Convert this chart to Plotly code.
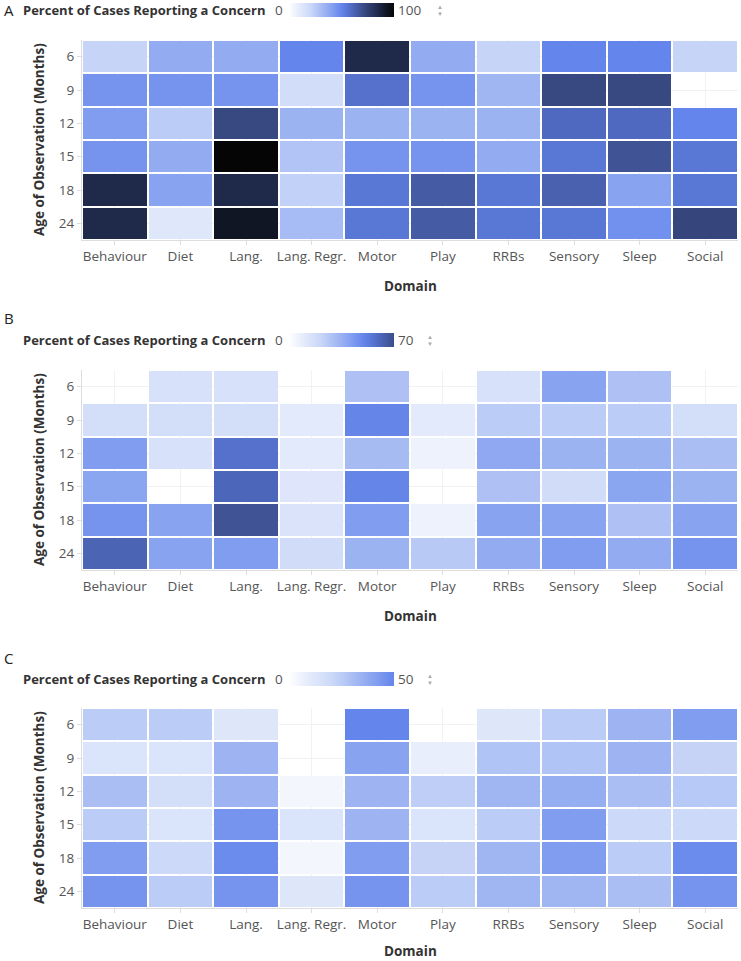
import plotly.graph_objects as go

W, H = 741, 961

domains = ["Behaviour", "Diet", "Lang.", "Lang. Regr.", "Motor", "Play", "RRBs", "Sensory", "Sleep", "Social"]
ages = ["6", "9", "12", "15", "18", "24"]

# Panel A values (percent), rows = ages, cols = domains; None = no data
values_a = [
    [22, 37, 37, 50, 85, 37, 22, 50, 50, 22],
    [45, 45, 45, 18, 57, 45, 33, 72, 72, None],
    [42, 25, 72, 34, 34, 34, 34, 60, 60, 50],
    [45, 37, 100, 28, 45, 45, 37, 55, 68, 55],
    [85, 40, 85, 23, 55, 65, 55, 63, 40, 55],
    [85, 12, 93, 31, 55, 65, 55, 55, 46, 73],
]
values_b = [
    [None, 15, 15, None, 29, None, 15, 40, 29, None],
    [17, 17, 17, 10, 50, 10, 25, 25, 25, 17],
    [42, 15, 57, 10, 31, 6, 38, 34, 34, 30],
    [39, None, 61, 12, 50, None, 29, 18, 39, 34],
    [45, 40, 68, 14, 42, 6, 40, 40, 29, 40],
    [62, 40, 42, 18, 34, 26, 37, 42, 37, 45],
]
values_c = [
    [25, 25, 12, None, 50, None, 12, 25, 34, 42],
    [14, 14, 34, None, 40, 8, 28, 28, 34, 22],
    [30, 17, 34, 4, 34, 24, 33, 36, 30, 26],
    [25, 14, 45, 14, 34, 14, 25, 42, 20, 20],
    [42, 20, 48, 4, 42, 22, 33, 42, 25, 48],
    [45, 25, 45, 12, 45, 25, 33, 33, 30, 45],
]
scale_max = [100, 70, 50]
panel_labels = ["A", "B", "C"]

FONT = "Open Sans"

anchors = [
    (0.0, "#ffffff"), (0.1, "#e3eafb"), (0.2, "#ccd9f8"), (0.3, "#aabef4"),
    (0.4, "#88a3f0"), (0.5, "#6485ec"), (0.6, "#4e69bf"), (0.7, "#3c4d8a"),
    (0.8, "#28355f"), (0.9, "#161d33"), (1.0, "#050505"),
]

def hex2rgb(h):
    h = h.lstrip("#")
    return tuple(int(h[i:i + 2], 16) for i in (0, 2, 4))

def color_at(t):
    for (t0, c0), (t1, c1) in zip(anchors[:-1], anchors[1:]):
        if t0 <= t <= t1:
            f = 0 if t1 == t0 else (t - t0) / (t1 - t0)
            a, b = hex2rgb(c0), hex2rgb(c1)
            r = [round(a[i] + (b[i] - a[i]) * f) for i in range(3)]
            return "rgb(%d,%d,%d)" % tuple(r)
    return anchors[-1][1]

def truncated_scale(frac, n=20):
    return [[i / n, color_at(frac * i / n)] for i in range(n + 1)]

def py(p):
    return 1 - p / H

def px(p):
    return p / W

fig = go.Figure()

plot_tops = [40, 370, 708]
plot_h = 200
legend_y = [10, 340, 679]
label_y = [10, 318, 658]
x0, x1 = 82, 738

annotations = []
for i, (vals, mx) in enumerate(zip([values_a, values_b, values_c], scale_max)):
    n = "" if i == 0 else str(i + 1)
    top = plot_tops[i]
    fig.add_trace(go.Heatmap(
        z=vals, x=domains, y=ages,
        xaxis="x" + n, yaxis="y" + n,
        zmin=0, zmax=mx,
        colorscale=truncated_scale(mx / 100),
        xgap=2, ygap=2,
        hoverongaps=False,
        colorbar=dict(
            orientation="h", x=px(289), xanchor="left",
            y=py(legend_y[i]), yanchor="middle",
            lenmode="pixels", len=105, thickness=14,
            thicknessmode="pixels",
            showticklabels=False, ticks="", outlinewidth=0,
            xpad=0, ypad=0,
        ),
    ))
    fig.update_layout(**{
        "xaxis" + n: dict(
            domain=[px(x0), px(x1)], anchor="y" + n,
            type="category", categoryorder="array", categoryarray=domains,
            showgrid=True, gridcolor="#f2f2f2", gridwidth=1,
            showline=True, linecolor="#dddddd", linewidth=1,
            ticks="outside", ticklen=4, tickcolor="#dddddd",
            tickfont=dict(family=FONT, size=13.5, color="#555555"),
            zeroline=False, fixedrange=True,
        ),
        "yaxis" + n: dict(
            domain=[py(top + plot_h), py(top)], anchor="x" + n,
            type="category", categoryorder="array", categoryarray=ages,
            autorange="reversed",
            showgrid=True, gridcolor="#f2f2f2", gridwidth=1,
            showline=True, linecolor="#dddddd", linewidth=1,
            ticks="outside", ticklen=4, tickcolor="#dddddd",
            tickfont=dict(family=FONT, size=13.5, color="#555555"),
            zeroline=False, fixedrange=True,
        ),
    })
    # axis titles
    annotations.append(dict(
        text="<b>Domain</b>", x=px((x0 + x1) / 2), y=py(min(top + plot_h + 46, 951)),
        xref="paper", yref="paper", showarrow=False,
        font=dict(family=FONT, size=13.5, color="#333333"),
        xanchor="center", yanchor="middle",
    ))
    annotations.append(dict(
        text="<b>Age of Observation (Months)</b>", x=px(39), y=py(top + plot_h / 2),
        xref="paper", yref="paper", showarrow=False, textangle=-90,
        font=dict(family=FONT, size=13.5, color="#333333"),
        xanchor="center", yanchor="middle",
    ))
    # legend title and values
    annotations.append(dict(
        text="<b>Percent of Cases Reporting a Concern</b>", x=px(21), y=py(legend_y[i]),
        xref="paper", yref="paper", showarrow=False,
        font=dict(family=FONT, size=13, color="#333333"),
        xanchor="left", yanchor="middle",
    ))
    annotations.append(dict(
        text="0", x=px(285), y=py(legend_y[i]),
        xref="paper", yref="paper", showarrow=False,
        font=dict(family=FONT, size=13.5, color="#555555"),
        xanchor="right", yanchor="middle",
    ))
    annotations.append(dict(
        text=str(mx), x=px(396), y=py(legend_y[i]),
        xref="paper", yref="paper", showarrow=False,
        font=dict(family=FONT, size=13.5, color="#555555"),
        xanchor="left", yanchor="middle",
    ))
    spin_x = 440 if mx == 100 else 430
    annotations.append(dict(
        text="▲", x=px(spin_x), y=py(legend_y[i] - 3),
        xref="paper", yref="paper", showarrow=False,
        font=dict(family=FONT, size=6, color="#aaaaaa"),
        xanchor="center", yanchor="middle",
    ))
    annotations.append(dict(
        text="▼", x=px(spin_x), y=py(legend_y[i] + 4),
        xref="paper", yref="paper", showarrow=False,
        font=dict(family=FONT, size=6, color="#aaaaaa"),
        xanchor="center", yanchor="middle",
    ))
    annotations.append(dict(
        text=panel_labels[i], x=px(2), y=py(label_y[i]),
        xref="paper", yref="paper", showarrow=False,
        font=dict(family=FONT, size=15, color="#222222"),
        xanchor="left", yanchor="middle",
    ))

fig.update_layout(
    width=W, height=H,
    margin=dict(l=0, r=0, t=0, b=0),
    paper_bgcolor="white", plot_bgcolor="white",
    annotations=annotations,
    showlegend=False,
    font=dict(family=FONT),
)

fig.write_html("out.html")
